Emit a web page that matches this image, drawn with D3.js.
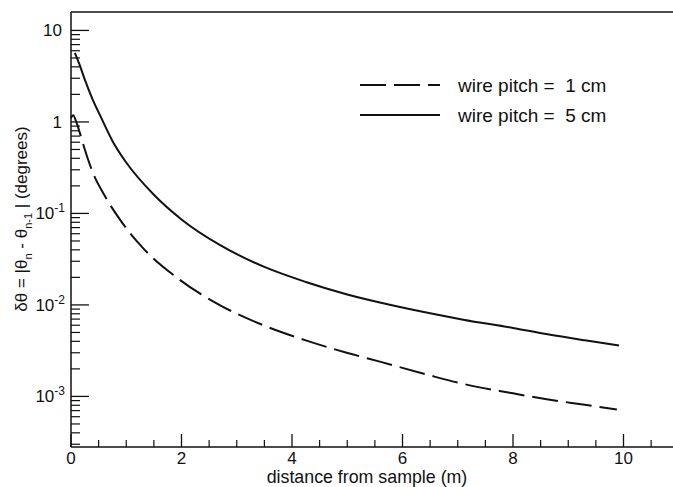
<!DOCTYPE html>
<html>
<head>
<meta charset="utf-8">
<script src="https://cdn.jsdelivr.net/npm/d3@7"></script>
<style>
  html, body { margin: 0; padding: 0; background: #fff; }
  svg text { font-family: "Liberation Sans", Arial, Helvetica, sans-serif; fill: #111; white-space: pre; }
</style>
</head>
<body>
<svg id="chart" width="673" height="487"></svg>
<script>
// ---- data ----
const distance1cm = [0.0, 0.04, 0.1, 0.16, 0.25, 0.4, 0.6, 0.89, 1.3, 1.97, 2.7, 3.48, 4.25, 4.99, 5.59, 6.46, 7.1, 8.0, 8.61, 9.3, 9.88];
const dtheta1cm   = [1.1, 1.18, 0.98, 0.76, 0.5, 0.275, 0.16, 0.085, 0.042, 0.0188, 0.0099, 0.0060, 0.0041, 0.0030, 0.0024, 0.00172, 0.00137, 0.00108, 0.00093, 0.00081, 0.00072];
const distance5cm = [0.07, 0.15, 0.25, 0.385, 0.55, 0.75, 1.0, 1.5, 2.0, 2.7, 3.5, 4.25, 5.0, 5.75, 6.5, 7.1, 8.0, 8.6, 9.3, 9.92];
const dtheta5cm   = [5.7, 4.3, 2.9, 1.8, 1.1, 0.62, 0.36, 0.16, 0.086, 0.045, 0.026, 0.0178, 0.0130, 0.0101, 0.0081, 0.0069, 0.0056, 0.0048, 0.0041, 0.0036];
const seriesLabels = ["wire pitch =  1 cm", "wire pitch =  5 cm"];
const xMajorTicks = [0, 2, 4, 6, 8, 10];
const yMajorTicks = [1e-3, 1e-2, 1e-1, 1, 10];
const yTickLabels = [["10", "-3"], ["10", "-2"], ["10", "-1"], ["1", ""], ["10", ""]];
const xTitle = "distance from sample (m)";

(function () {
// ---- layout ----
const svg = d3.select("#chart");
const pL = 71, pR = 673, pT = 12, pB = 447;
const x = d3.scaleLinear().domain([0, 10.9]).range([pL, pL + 55.25 * 10.9]);
const y = d3.scaleLog().domain([2.8e-4, 15.9]).range([pB, pT]);
const ink = "#111";

// minor ticks
const xMinor = d3.range(0.5, 10.9, 0.5).filter(v => Math.abs(v - Math.round(v / 2) * 2) > 1e-6);
const yMinor = [];
for (let e = -4; e <= 1; e++) {
  for (let m = 2; m <= 9; m++) {
    const v = m * Math.pow(10, e);
    if (v >= 2.8e-4 && v <= 15.9) yMinor.push(v);
  }
}

const g = svg.append("g");

// frame lines
g.append("line").attr("x1", pL).attr("x2", pR).attr("y1", pT).attr("y2", pT)
  .attr("stroke", ink).attr("stroke-width", 1.5);
g.append("line").attr("x1", pL).attr("x2", pR).attr("y1", pB).attr("y2", pB)
  .attr("stroke", ink).attr("stroke-width", 1.5);
g.append("line").attr("x1", pL).attr("x2", pL).attr("y1", pT).attr("y2", pB)
  .attr("stroke", ink).attr("stroke-width", 1.5);

// x ticks (inward)
g.selectAll(".xmaj").data(xMajorTicks).join("line")
  .attr("x1", d => x(d)).attr("x2", d => x(d)).attr("y1", pB).attr("y2", pB - 13)
  .attr("stroke", ink).attr("stroke-width", 1.3);
g.selectAll(".xmin").data(xMinor).join("line")
  .attr("x1", d => x(d)).attr("x2", d => x(d)).attr("y1", pB).attr("y2", pB - 7)
  .attr("stroke", ink).attr("stroke-width", 1.2);
g.selectAll(".xlab").data(xMajorTicks).join("text")
  .attr("x", d => x(d)).attr("y", 464).attr("text-anchor", "middle")
  .attr("font-size", 17).text(d => d);

// y ticks (inward)
g.selectAll(".ymaj").data(yMajorTicks).join("line")
  .attr("x1", pL).attr("x2", pL + 18).attr("y1", d => y(d)).attr("y2", d => y(d))
  .attr("stroke", ink).attr("stroke-width", 1.3);
g.selectAll(".ymin").data(yMinor).join("line")
  .attr("x1", pL).attr("x2", pL + 9).attr("y1", d => y(d)).attr("y2", d => y(d))
  .attr("stroke", ink).attr("stroke-width", 1.2);
const ylab = g.selectAll(".ylab").data(yMajorTicks).join("text")
  .attr("x", (d, i) => yTickLabels[i][1] ? 65 : 62).attr("y", d => y(d) + 6)
  .attr("text-anchor", "end").attr("font-size", 17);
ylab.each(function(d, i) {
  const t = d3.select(this);
  t.append("tspan").text(yTickLabels[i][0]);
  if (yTickLabels[i][1]) t.append("tspan").attr("dy", -7).attr("font-size", 12).text(yTickLabels[i][1]);
});

// axis titles
g.append("text").attr("x", 367).attr("y", 483).attr("text-anchor", "middle")
  .attr("font-size", 17.8).text(xTitle);

const yt = g.append("text").attr("transform", "translate(27,219) rotate(-90)")
  .attr("text-anchor", "middle").attr("font-size", 17);
yt.append("tspan").text("δθ = |θ");
yt.append("tspan").attr("dy", 4.5).attr("font-size", 11).text("n");
yt.append("tspan").attr("dy", -4.5).text(" - θ");
yt.append("tspan").attr("dy", 4.5).attr("font-size", 11).text("n-1");
yt.append("tspan").attr("dy", -4.5).text(" | (degrees)");

// curves
const line = d3.line().x(d => x(d[0])).y(d => y(d[1])).curve(d3.curveMonotoneX);
const s1 = distance1cm.map((d, i) => [d, dtheta1cm[i]]);
const s5 = distance5cm.map((d, i) => [d, dtheta5cm[i]]);
g.append("path").attr("d", line(s1)).attr("fill", "none").attr("stroke", ink)
  .attr("stroke-width", 2).attr("stroke-dasharray", "26,8");
g.append("path").attr("d", line(s5)).attr("fill", "none").attr("stroke", ink)
  .attr("stroke-width", 2);

// legend
const leg = [{dash: "26,8", y: 85}, {dash: null, y: 115}];
leg.forEach((L, i) => {
  g.append("line").attr("x1", 360).attr("x2", 440).attr("y1", L.y).attr("y2", L.y)
    .attr("stroke", ink).attr("stroke-width", 2).attr("stroke-dasharray", L.dash);
  g.append("text").attr("x", 458).attr("y", L.y + 7).attr("font-size", 19).text(seriesLabels[i]);
});
})();
</script>
</body>
</html>
